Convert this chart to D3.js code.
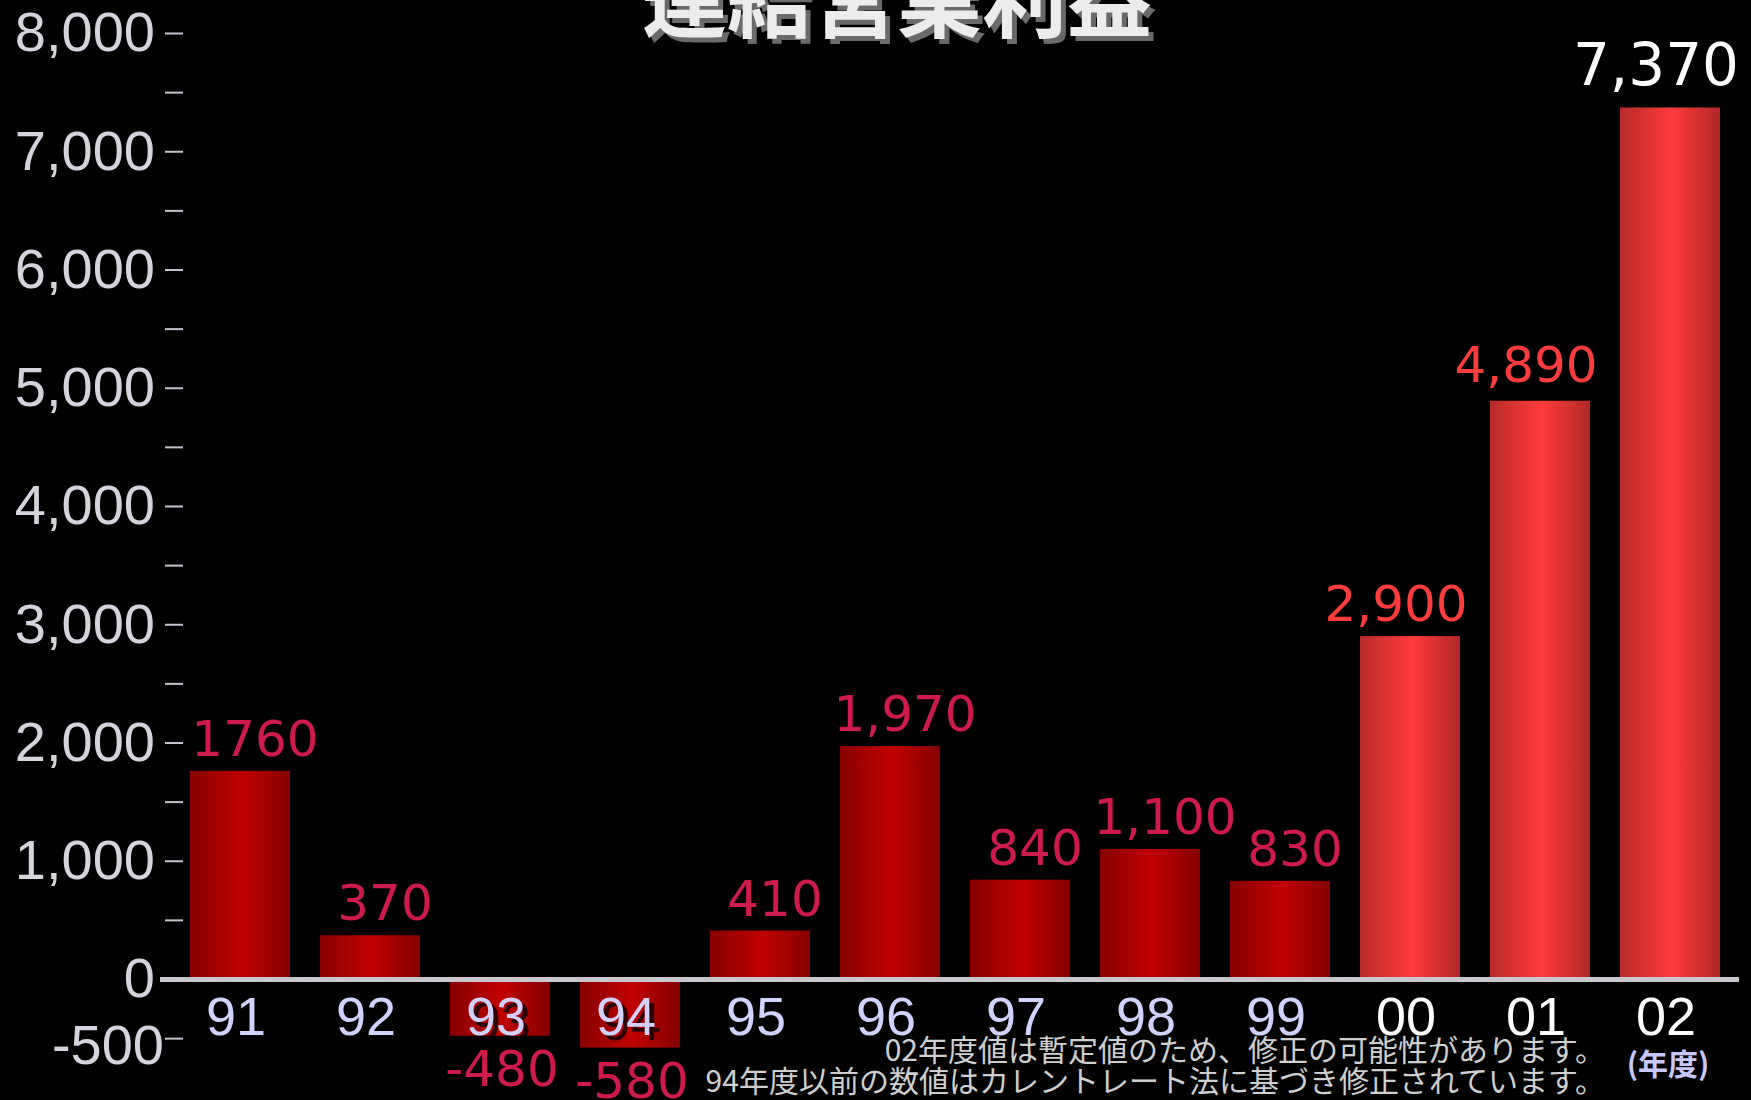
<!DOCTYPE html>
<html><head><meta charset="utf-8">
<script src="https://cdn.jsdelivr.net/npm/d3@7"></script>
<style>html,body{margin:0;padding:0;background:#000;} svg{display:block}</style>
</head><body>
<svg id="chart" width="1751" height="1100"></svg>
<script>
const categories = ["91","92","93","94","95","96","97","98","99","00","01","02"];
const values = [1760, 370, -480, -580, 410, 1970, 840, 1100, 830, 2900, 4890, 7370];
const valueLabels = ["1760","370","-480","-580","410","1,970","840","1,100","830","2,900","4,890","7,370"];
const majorTicks = [-500, 0, 1000, 2000, 3000, 4000, 5000, 6000, 7000, 8000];
const majorTickLabels = ["-500","0","1,000","2,000","3,000","4,000","5,000","6,000","7,000","8,000"];
const minorTicks = [500, 1500, 2500, 3500, 4500, 5500, 6500, 7500];
const titleText = "連結営業利益";
const notes = ["02年度値は暫定値のため、修正の可能性があります。", "94年度以前の数値はカレントレート法に基づき修正されています。"];
const unitLabel = "(年度)";

const svg = d3.select("#chart");
svg.append("rect").attr("width", 1751).attr("height", 1100).attr("fill", "#000");

const defs = svg.append("defs");
function grad(id, edgeL, mid, edgeR) {
  const g = defs.append("linearGradient").attr("id", id).attr("x1", "0").attr("x2", "1").attr("y1", "0").attr("y2", "0");
  g.append("stop").attr("offset", "0").attr("stop-color", edgeL);
  g.append("stop").attr("offset", "0.52").attr("stop-color", mid);
  g.append("stop").attr("offset", "1").attr("stop-color", edgeR);
}
grad("gDark", "#880000", "#c00000", "#860000");
grad("gBright", "#b82a2a", "#ff3b3b", "#b02727");

const x = d3.scaleBand().domain(categories).range([190, 1720]).paddingInner(0.2308).paddingOuter(0);
const y = d3.scaleLinear().domain([0, 8000]).range([979, 33]);

// title
const tg = svg.append("g").attr("font-family", "'Noto Sans CJK JP'").attr("font-weight", "bold").attr("font-size", 85).attr("text-anchor", "middle");
tg.append("text").attr("x", 902).attr("y", 36).attr("fill", "#6a6a6a").text(titleText);
tg.append("text").attr("x", 897).attr("y", 31).attr("fill", "#ececec").text(titleText);

// y axis major
const yAxis = d3.axisLeft(y).tickValues(majorTicks).tickSize(18).tickPadding(12)
  .tickFormat((d, i) => majorTickLabels[i]);
const ga = svg.append("g").attr("transform", "translate(183,0)").call(yAxis);
ga.select(".domain").remove();
ga.selectAll(".tick line").attr("stroke", "#c4c4cc").attr("stroke-width", 2)
  .attr("opacity", d => d === 0 ? 0 : 1);
ga.selectAll(".tick text").attr("fill", "#d4d4dc").attr("font-size", 56)
  .attr("font-family", "'Liberation Sans', Arial, sans-serif")
  .attr("x", d => d < 0 ? -19 : -28)
  .attr("dy", d => d < 0 ? "0.45em" : "0.32em");

// y axis minor
const gm = svg.append("g").attr("transform", "translate(183,0)")
  .call(d3.axisLeft(y).tickValues(minorTicks).tickSize(18).tickFormat(""));
gm.select(".domain").remove();
gm.selectAll(".tick line").attr("stroke", "#c4c4cc").attr("stroke-width", 2);

// bars
svg.append("g").selectAll("rect").data(values).join("rect")
  .attr("x", (d, i) => x(categories[i]))
  .attr("width", x.bandwidth())
  .attr("y", d => y(Math.max(0, d)))
  .attr("height", d => Math.abs(y(d) - y(0)))
  .attr("fill", (d, i) => i >= 9 ? "url(#gBright)" : "url(#gDark)");

// baseline
svg.append("line").attr("x1", 160).attr("x2", 1739).attr("y1", y(0) + 0.5).attr("y2", y(0) + 0.5)
  .attr("stroke", "#c8c8cc").attr("stroke-width", 5);

// x axis labels
const xAxis = d3.axisBottom(x).tickSize(0).tickPadding(0);
const gx = svg.append("g").attr("transform", `translate(0,${y(0)})`).call(xAxis);
gx.select(".domain").remove();
gx.selectAll(".tick text").each(function(d, i) {
  const t = d3.select(this);
  t.attr("dy", null).attr("y", 56).attr("x", -4)
   .attr("font-size", 54).attr("font-family", "'Liberation Sans', Arial, sans-serif")
   .attr("fill", i >= 9 ? "#ffffff" : "#d2d2ff");
  d3.select(this.parentNode).insert("text", "text")
    .attr("x", 1).attr("y", 61).attr("text-anchor", "middle")
    .attr("font-size", 54).attr("font-family", "'Liberation Sans', Arial, sans-serif")
    .attr("fill", "#000").attr("opacity", 0.75).text(d);
});

// value labels
svg.append("g").attr("font-family", "'DejaVu Sans', sans-serif").attr("text-anchor", "middle")
  .selectAll("text").data(values).join("text")
  .attr("x", (d, i) => x(categories[i]) + x.bandwidth() / 2 + (i >= 9 ? -14 : (d < 0 ? 2 : 15)))
  .attr("y", (d, i) => d < 0 ? y(d) + 50 : y(d) - (i === 11 ? 22 : (i === 10 ? 19 : 15)))
  .attr("font-size", (d, i) => i === 11 ? 58 : 50)
  .attr("fill", (d, i) => i === 11 ? "#ffffff" : (i >= 9 ? "#ff3c3c" : "#cf1a4c"))
  .text((d, i) => valueLabels[i]);

// notes
svg.append("g").attr("font-family", "'Noto Sans CJK JP'").attr("font-size", 30).attr("fill", "#cfcfcf")
  .attr("text-anchor", "end")
  .selectAll("text").data(notes).join("text")
  .attr("x", 1605).attr("y", (d, i) => 1061 + i * 31).text(d => d);

svg.append("text").attr("x", 1668).attr("y", 1075).attr("text-anchor", "middle")
  .attr("font-family", "'Noto Sans CJK JP'").attr("font-weight", "bold").attr("font-size", 30)
  .attr("fill", "#c8c8ff").text(unitLabel);
</script>
</body></html>
